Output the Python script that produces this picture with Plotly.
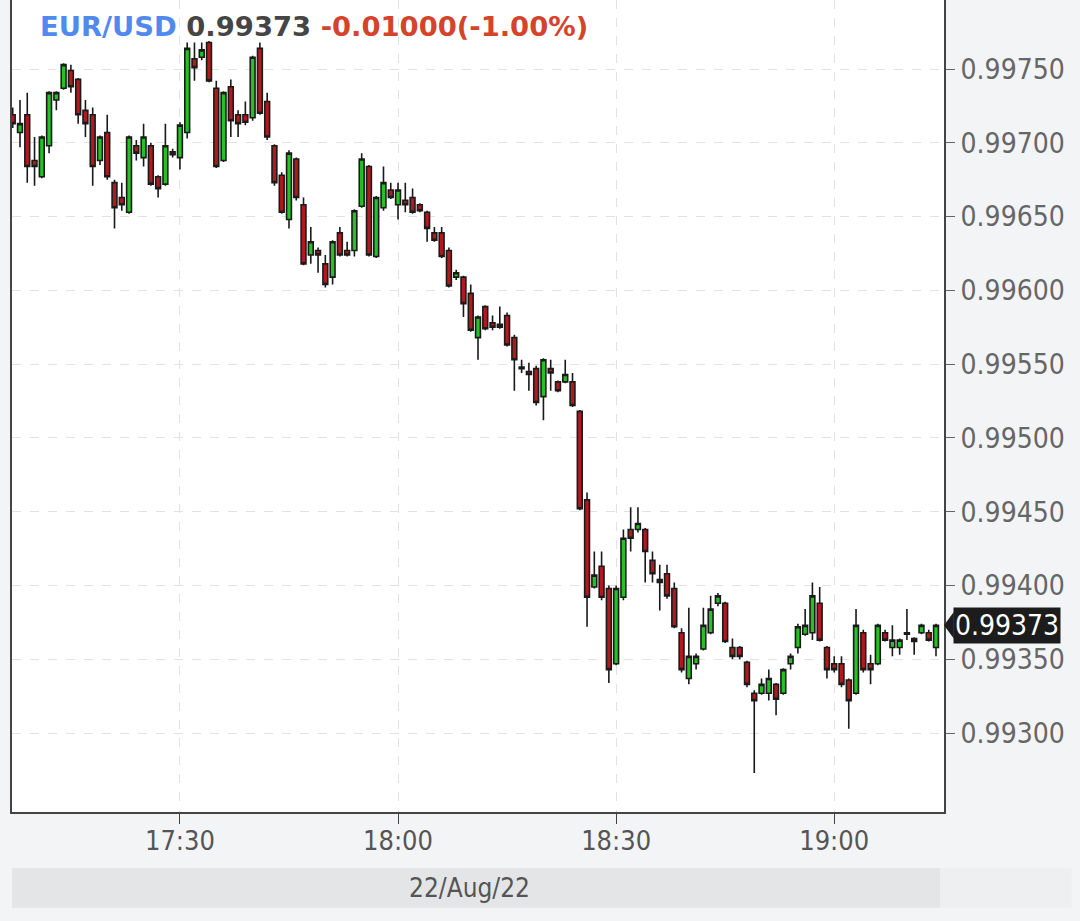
import pandas as pd
import plotly.graph_objects as go

# ---- data (EUR/USD 1-minute candles, 22 Aug 2022, 17:07 .. 19:14) ----
times = pd.date_range("2022-08-22 17:07", periods=128, freq="min")

open_ = [
    0.99719, 0.99707, 0.99719, 0.99688, 0.99677, 0.99698, 0.99729, 0.99737, 0.99749, 0.99743,
    0.99722, 0.99719, 0.99688, 0.99707, 0.99673, 0.99663, 0.99653, 0.99698, 0.99690, 0.99698,
    0.99677, 0.99672, 0.99694, 0.99690, 0.99707, 0.99757, 0.99758, 0.99768, 0.99737, 0.99688,
    0.99738, 0.99719, 0.99719, 0.99717, 0.99764, 0.99728, 0.99698, 0.99678, 0.99648, 0.99689,
    0.99658, 0.99624, 0.99627, 0.99618, 0.99609, 0.99639, 0.99627, 0.99627, 0.99657, 0.99684,
    0.99623, 0.99656, 0.99668, 0.99658, 0.99661, 0.99663, 0.99658, 0.99653, 0.99639, 0.99639,
    0.99627, 0.99609, 0.99609, 0.99598, 0.99568, 0.99589, 0.99578, 0.99577, 0.99583, 0.99568,
    0.99548, 0.99545, 0.99547, 0.99528, 0.99547, 0.99538, 0.99538, 0.99538, 0.99518, 0.99458,
    0.99399, 0.99413, 0.99398, 0.99347, 0.99392, 0.99438, 0.99438, 0.99438, 0.99417, 0.99404,
    0.99408, 0.99398, 0.99368, 0.99337, 0.99347, 0.99357, 0.99368, 0.99388, 0.99388, 0.99358,
    0.99358, 0.99348, 0.99327, 0.99327, 0.99327, 0.99333, 0.99327, 0.99347, 0.99358, 0.99367,
    0.99368, 0.99388, 0.99358, 0.99347, 0.99347, 0.99336, 0.99327, 0.99368, 0.99347, 0.99347,
    0.99368, 0.99358, 0.99358, 0.99368, 0.99364, 0.99368, 0.99368, 0.99358,
]
high = [
    0.99724, 0.99729, 0.99734, 0.99704, 0.99705, 0.99735, 0.99735, 0.99754, 0.99753, 0.99744,
    0.99729, 0.99724, 0.99705, 0.99719, 0.99675, 0.99673, 0.99705, 0.99702, 0.99713, 0.99700,
    0.99678, 0.99713, 0.99696, 0.99714, 0.99768, 0.99768, 0.99768, 0.99769, 0.99742, 0.99735,
    0.99743, 0.99722, 0.99728, 0.99759, 0.99768, 0.99734, 0.99699, 0.99680, 0.99695, 0.99690,
    0.99663, 0.99643, 0.99629, 0.99624, 0.99634, 0.99643, 0.99633, 0.99655, 0.99693, 0.99685,
    0.99664, 0.99684, 0.99673, 0.99673, 0.99673, 0.99669, 0.99659, 0.99654, 0.99643, 0.99643,
    0.99629, 0.99614, 0.99610, 0.99604, 0.99583, 0.99590, 0.99583, 0.99589, 0.99585, 0.99570,
    0.99553, 0.99551, 0.99549, 0.99554, 0.99553, 0.99539, 0.99553, 0.99544, 0.99519, 0.99463,
    0.99423, 0.99423, 0.99400, 0.99400, 0.99438, 0.99453, 0.99453, 0.99439, 0.99423, 0.99414,
    0.99414, 0.99402, 0.99371, 0.99385, 0.99354, 0.99385, 0.99393, 0.99395, 0.99389, 0.99364,
    0.99359, 0.99349, 0.99329, 0.99337, 0.99343, 0.99334, 0.99344, 0.99354, 0.99374, 0.99384,
    0.99402, 0.99399, 0.99359, 0.99352, 0.99352, 0.99337, 0.99384, 0.99370, 0.99353, 0.99374,
    0.99370, 0.99373, 0.99364, 0.99384, 0.99365, 0.99374, 0.99370, 0.99374,
]
low = [
    0.99710, 0.99697, 0.99673, 0.99671, 0.99676, 0.99693, 0.99722, 0.99736, 0.99734, 0.99713,
    0.99704, 0.99671, 0.99685, 0.99675, 0.99642, 0.99654, 0.99652, 0.99688, 0.99684, 0.99671,
    0.99663, 0.99671, 0.99690, 0.99682, 0.99703, 0.99742, 0.99756, 0.99741, 0.99683, 0.99687,
    0.99704, 0.99704, 0.99712, 0.99715, 0.99719, 0.99702, 0.99671, 0.99652, 0.99642, 0.99661,
    0.99617, 0.99618, 0.99612, 0.99602, 0.99604, 0.99623, 0.99623, 0.99623, 0.99656, 0.99623,
    0.99622, 0.99654, 0.99662, 0.99648, 0.99653, 0.99652, 0.99653, 0.99633, 0.99633, 0.99622,
    0.99602, 0.99607, 0.99582, 0.99572, 0.99553, 0.99573, 0.99573, 0.99574, 0.99562, 0.99532,
    0.99544, 0.99532, 0.99522, 0.99512, 0.99532, 0.99531, 0.99537, 0.99521, 0.99451, 0.99372,
    0.99398, 0.99390, 0.99334, 0.99346, 0.99390, 0.99423, 0.99436, 0.99402, 0.99402, 0.99383,
    0.99391, 0.99371, 0.99341, 0.99333, 0.99343, 0.99356, 0.99367, 0.99386, 0.99361, 0.99350,
    0.99350, 0.99331, 0.99273, 0.99326, 0.99322, 0.99312, 0.99326, 0.99343, 0.99354, 0.99366,
    0.99363, 0.99362, 0.99337, 0.99341, 0.99331, 0.99303, 0.99326, 0.99341, 0.99333, 0.99346,
    0.99362, 0.99352, 0.99353, 0.99363, 0.99353, 0.99367, 0.99362, 0.99352,
]
close = [
    0.99713, 0.99713, 0.99684, 0.99684, 0.99704, 0.99734, 0.99734, 0.99753, 0.99738, 0.99719,
    0.99713, 0.99684, 0.99704, 0.99677, 0.99656, 0.99658, 0.99704, 0.99693, 0.99704, 0.99672,
    0.99669, 0.99698, 0.99692, 0.99712, 0.99764, 0.99751, 0.99763, 0.99742, 0.99684, 0.99734,
    0.99715, 0.99713, 0.99714, 0.99758, 0.99720, 0.99704, 0.99673, 0.99653, 0.99693, 0.99663,
    0.99618, 0.99633, 0.99624, 0.99604, 0.99633, 0.99624, 0.99624, 0.99654, 0.99689, 0.99624,
    0.99663, 0.99673, 0.99663, 0.99668, 0.99658, 0.99653, 0.99654, 0.99642, 0.99634, 0.99623,
    0.99603, 0.99612, 0.99591, 0.99573, 0.99582, 0.99574, 0.99575, 0.99575, 0.99563, 0.99553,
    0.99547, 0.99543, 0.99524, 0.99553, 0.99544, 0.99532, 0.99543, 0.99522, 0.99452, 0.99392,
    0.99407, 0.99392, 0.99343, 0.99398, 0.99432, 0.99432, 0.99442, 0.99423, 0.99408, 0.99402,
    0.99393, 0.99372, 0.99343, 0.99352, 0.99352, 0.99373, 0.99384, 0.99393, 0.99362, 0.99352,
    0.99352, 0.99333, 0.99322, 0.99333, 0.99337, 0.99323, 0.99343, 0.99352, 0.99372, 0.99373,
    0.99393, 0.99363, 0.99343, 0.99343, 0.99333, 0.99322, 0.99373, 0.99343, 0.99343, 0.99373,
    0.99363, 0.99363, 0.99363, 0.99367, 0.99362, 0.99373, 0.99363, 0.99373,
]

symbol = "EUR/USD"
last_price = "0.99373"
change_text = "-0.01000(-1.00%)"
date_label = "22/Aug/22"
x_tick_vals = ["2022-08-22 17:30", "2022-08-22 18:00", "2022-08-22 18:30", "2022-08-22 19:00"]
x_tick_text = ["17:30", "18:00", "18:30", "19:00"]
y_tick_vals = [0.99300, 0.99350, 0.99400, 0.99450, 0.99500, 0.99550, 0.99600, 0.99650, 0.99700, 0.99750]

TICK_FONT = "DejaVu Sans Condensed, DejaVu Sans, sans-serif"

fig = go.Figure()
fig.add_trace(go.Candlestick(
    x=times, open=open_, high=high, low=low, close=close,
    increasing=dict(fillcolor="#22c322", line=dict(color="#1a1a1a", width=1.6)),
    decreasing=dict(fillcolor="#b3191c", line=dict(color="#1a1a1a", width=1.6)),
    whiskerwidth=0,
    showlegend=False,
))

last_close = close[-1]

fig.update_layout(
    width=1080, height=921,
    margin=dict(l=12, r=136, t=0, b=109),
    paper_bgcolor="#f3f4f6",
    plot_bgcolor="#ffffff",
    boxgap=0.05,
    showlegend=False,
    xaxis=dict(
        type="date",
        range=["2022-08-22 17:06:54", "2022-08-22 19:15:06"],
        rangeslider=dict(visible=False),
        tickvals=x_tick_vals, ticktext=x_tick_text,
        ticks="outside", ticklen=10, tickcolor="#444", tickwidth=1,
        ticklabelstandoff=-6,
        tickfont=dict(family=TICK_FONT, size=27, color="#555555"),
        showgrid=True, gridcolor="#e2e2e2", griddash="dash", gridwidth=1,
        showline=True, linecolor="#444", linewidth=2,
        zeroline=False,
    ),
    yaxis=dict(
        side="right",
        range=[0.992465, 0.997968],
        tickvals=y_tick_vals, tickformat=".5f",
        ticks="outside", ticklen=9, tickcolor="#666", tickwidth=1,
        tickfont=dict(family=TICK_FONT, size=28, color="#666666"),
        showgrid=True, gridcolor="#e2e2e2", griddash="dash", gridwidth=1,
        showline=True, linecolor="#444", linewidth=2, mirror=True,
        zeroline=False,
    ),
)

# header
fig.add_annotation(
    xref="paper", yref="paper", x=0.028, y=0.967, xanchor="left", yanchor="middle",
    text=(f"<b><span style='color:#5189ee'>{symbol}</span> "
          f"<span style='color:#454545'>{last_price}</span> "
          f"<span style='color:#d4442a'>{change_text}</span></b>"),
    showarrow=False,
    font=dict(family="DejaVu Sans, sans-serif", size=27.4),
)

# last price tag
fig.add_annotation(
    xref="paper", yref="y", x=1.0, y=last_close, xanchor="left", yanchor="middle",
    xshift=9, text=last_price, showarrow=False,
    bgcolor="#1c1c1c", borderpad=1,
    font=dict(family=TICK_FONT, size=28, color="#ffffff"),
)
fig.add_shape(
    type="path", xref="paper", yref="y",
    path=(f"M 1.0 {last_close} L 1.0105 {last_close + 0.00009} "
          f"L 1.0105 {last_close - 0.00009} Z"),
    fillcolor="#1c1c1c", line=dict(width=0),
)

# date band below the axis
fig.add_shape(type="rect", xref="paper", yref="paper", x0=0.0, x1=0.9957, y0=-0.118, y1=-0.069,
              fillcolor="#e4e5e7", line=dict(width=0), layer="below")
fig.add_shape(type="rect", xref="paper", yref="paper", x0=0.9957, x1=1.137, y0=-0.118, y1=-0.069,
              fillcolor="#eeeff1", line=dict(width=0), layer="below")
fig.add_annotation(
    xref="paper", yref="paper", x=0.491, y=-0.0935, xanchor="center", yanchor="middle",
    text=date_label, showarrow=False,
    font=dict(family=TICK_FONT, size=26, color="#555555"),
)

fig.write_html("out.html", config={"displayModeBar": False},
               post_script="document.body.style.margin='0';")
